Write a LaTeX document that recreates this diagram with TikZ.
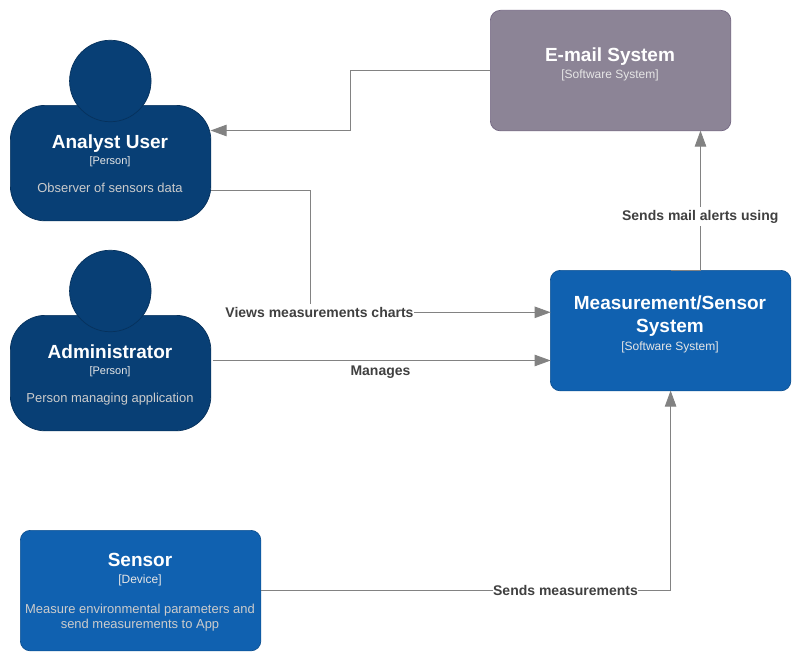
\documentclass[tikz,border=0pt]{standalone}
\usepackage{fontspec}
\setmainfont{Liberation Sans}
\usetikzlibrary{arrows.meta,calc}
\tikzset{
  x=1pt,y=-1pt,
  box/.style={draw=#1,line width=0.7pt,rounded corners=10pt,inner sep=0pt,anchor=north west},
  personbody/.style={draw=personline,fill=personfill,line width=0.7pt,rounded corners=35pt,inner sep=0pt,minimum width=200.5pt,minimum height=115.5pt,anchor=north west},
  personhead/.style={circle,draw=personline,fill=personfill,line width=0.7pt,inner sep=0pt,minimum size=81.5pt},
  titletext/.style={anchor=base,text=white,font=\fontsize{19}{22.5}\selectfont\bfseries,inner sep=0pt},
  typetext/.style={anchor=base,text=typecol,font=\fontsize{12}{14}\selectfont,inner sep=0pt},
  persontype/.style={anchor=base,text=typecol,font=\fontsize{11}{13}\selectfont,inner sep=0pt},
  desctext/.style={anchor=base,text=desccol,font=\fontsize{12.95}{15}\selectfont,inner sep=0pt},
  link/.style={draw=linkcol,line width=0.8pt,-{Triangle[length=16pt,width=11.5pt]},shorten >=-0.6pt},
  linktext/.style={anchor=base,text=labelcol,font=\fontsize{14}{17}\selectfont\bfseries,inner sep=0pt},
  gap/.style={fill=white,inner xsep=0.5pt,inner ysep=3pt}
}
\definecolor{personfill}{HTML}{083F75}
\definecolor{personline}{HTML}{06315C}
\definecolor{sysfill}{HTML}{1061B0}
\definecolor{sysline}{HTML}{0D5091}
\definecolor{mailfill}{HTML}{8C8496}
\definecolor{mailline}{HTML}{736782}
\definecolor{linkcol}{HTML}{828282}
\definecolor{labelcol}{HTML}{404040}
\definecolor{typecol}{HTML}{E6E6E6}
\definecolor{desccol}{HTML}{CCCCCC}
\begin{document}
\begin{tikzpicture}
\useasboundingbox (0,0) rectangle (801,661);
\fill[white] (0,0) rectangle (801,661);

% Boxes
\node[personbody] (analyst) at (10,105) {};
\node[personhead] (analysthead) at (110.3,81) {};
\node[personbody] (admin) at (10,315) {};
\node[personhead] (adminhead) at (110.3,291) {};
\node[box=mailline,fill=mailfill,minimum width=240.5pt,minimum height=120.5pt] (mail) at (490,10) {};
\node[box=sysline,fill=sysfill,minimum width=240.5pt,minimum height=120.5pt] (system) at (550,270) {};
\node[box=sysline,fill=sysfill,minimum width=240.5pt,minimum height=120.5pt] (sensor) at (20,530) {};

% Connector anchors
\coordinate (mailout) at ($(mail.north west)+(0,60.5)$);
\coordinate (analystin) at ($(analyst.north east)+(0,25.5)$);
\coordinate (analystout) at ($(analyst.north east)+(0,85.5)$);
\coordinate (sysviews) at ($(system.north west)+(0,42.3)$);
\coordinate (adminout) at ($(admin.north east)+(1.5,45.5)$);
\coordinate (sysmanage) at ($(system.north west)+(0,90.5)$);
\coordinate (mailin) at ($(mail.south east)+(-30.7,0)$);
\coordinate (sysout) at (system.north);
\coordinate (sensorout) at (sensor.east);
\coordinate (sysin) at (system.south);

% Connectors
\draw[link] (mailout) -- (350.3,70.5) -- (350.3,130.5) -- (analystin);
\draw[link] (analystout) -- (310.3,190.5) -- (310.3,312.3) -- (sysviews);
\draw[link] (adminout) -- (sysmanage);
\draw[link] (sysout) -- (mailin |- sysout) -- (mailin);
\draw[link] (sensorout) -- (sysin |- sensorout) -- (sysin);

% Connector labels
\node[linktext,gap] (lviews) at (319.5,317) {Views measurements charts};
\node[linktext] (lmanages) at (380.5,375) {Manages};
\node[linktext,gap] (lmail) at (700.3,220) {Sends mail alerts using};
\node[linktext,gap] (lmeas) at (565.5,595) {Sends measurements};

% Box texts
\node[titletext] (t1) at (110,148) {Analyst User};
\node[persontype] (t2) at (110,164) {[Person]};
\node[desctext] (t3) at (110,192) {Observer of sensors data};
\node[titletext] (a1) at (110,358) {Administrator};
\node[persontype] (a2) at (110,374) {[Person]};
\node[desctext] (a3) at (110,402) {Person managing application};
\node[titletext] (m1) at (610,62) {E-mail System};
\node[typetext] (m2) at (610,79) {[Software System]};
\node[titletext] (s1a) at (670,309.3) {Measurement/Sensor};
\node[titletext] (s1b) at (670,332.3) {System};
\node[typetext] (s2) at (670,350) {[Software System]};
\node[titletext] (d1) at (140,566) {Sensor};
\node[typetext] (d2) at (140,583) {[Device]};
\node[desctext] (d3a) at (140,613) {Measure environmental parameters and};
\node[desctext] (d3b) at (140,628) {send measurements to App};
\end{tikzpicture}
\end{document}
